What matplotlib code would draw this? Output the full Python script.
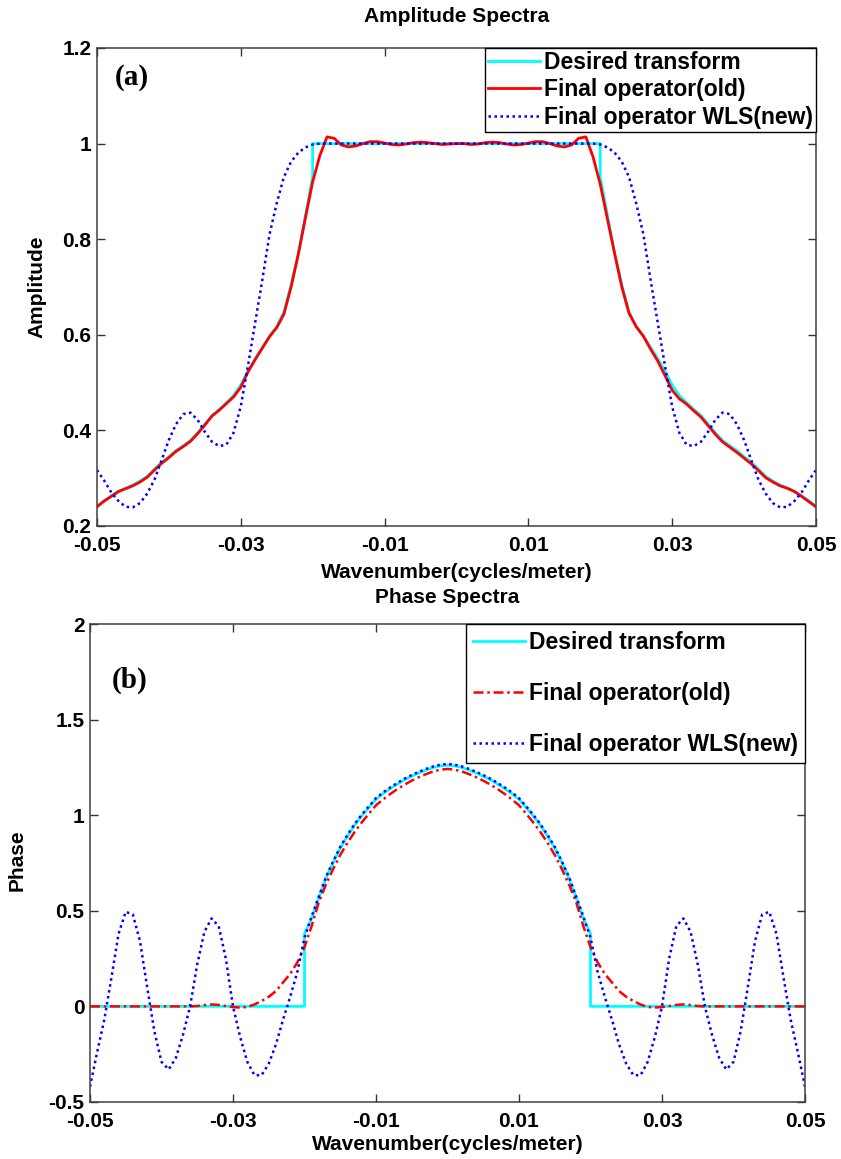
import numpy as np
import matplotlib
matplotlib.use('Agg')
import matplotlib.pyplot as plt

plt.rcParams['axes.unicode_minus'] = False
plt.rcParams['font.family'] = ['Liberation Sans', 'DejaVu Sans']
plt.rcParams['font.weight'] = 'bold'

# ---------------- data ----------------
k = np.round(np.linspace(-0.05, 0.05, 101), 3)          # wavenumber grid
k_des = np.concatenate([k[:31], k[30:71], k[70:]])      # grid with the two jumps at +-0.02

amp_desired = ([0.241, 0.253, 0.263, 0.273, 0.279, 0.286, 0.294, 0.304, 0.319, 0.333,
                0.345, 0.358, 0.368, 0.379, 0.395, 0.413, 0.431, 0.444, 0.458, 0.473,
                0.495, 0.524, 0.550, 0.574, 0.597, 0.617, 0.648, 0.705, 0.770, 0.850,
                0.930]
               + [1.0] * 41 +
               [0.930, 0.850, 0.770, 0.705, 0.648, 0.617, 0.597, 0.574, 0.550, 0.524,
                0.495, 0.473, 0.458, 0.444, 0.431, 0.413, 0.395, 0.379, 0.368, 0.358,
                0.345, 0.333, 0.319, 0.304, 0.294, 0.286, 0.279, 0.273, 0.263, 0.253,
                0.241])

amp_old = [0.240, 0.252, 0.262, 0.272, 0.278, 0.284, 0.292, 0.302, 0.317, 0.331,
           0.343, 0.356, 0.366, 0.377, 0.393, 0.411, 0.430, 0.442, 0.456, 0.470,
           0.490, 0.522, 0.548, 0.572, 0.596, 0.615, 0.643, 0.700, 0.768, 0.845,
           0.920, 0.975, 1.014, 1.011, 0.997, 0.993, 0.995, 1.000, 1.004, 1.004,
           1.001, 0.998, 0.997, 0.999, 1.002, 1.003, 1.002, 1.000, 0.998, 0.999,
           1.000,
           1.000, 0.998, 0.999, 1.002, 1.003, 1.002, 0.999, 0.997, 0.998, 1.001,
           1.004, 1.004, 1.000, 0.995, 0.993, 0.997, 1.011, 1.014, 0.972, 0.915,
           0.842, 0.770, 0.700, 0.645, 0.617, 0.597, 0.570, 0.545, 0.515, 0.484,
           0.466, 0.455, 0.441, 0.428, 0.410, 0.392, 0.376, 0.365, 0.354, 0.342,
           0.330, 0.316, 0.301, 0.292, 0.284, 0.279, 0.272, 0.262, 0.251, 0.240]

amp_wls = [0.317, 0.295, 0.270, 0.252, 0.240, 0.239, 0.248, 0.268, 0.297, 0.338,
           0.380, 0.413, 0.434, 0.437, 0.422, 0.397, 0.376, 0.367, 0.370, 0.395,
           0.450, 0.535, 0.625, 0.715, 0.810, 0.875, 0.930, 0.962, 0.981, 0.992,
           0.998, 1.000, 1.000, 1.000, 1.000, 1.000, 1.000, 1.000, 1.000, 1.000,
           1.000, 1.000, 1.000, 1.000, 1.000, 1.000, 1.000, 1.000, 1.000, 1.000,
           1.000,
           1.000, 1.000, 1.000, 1.000, 1.000, 1.000, 1.000, 1.000, 1.000, 1.000,
           1.000, 1.000, 1.000, 1.000, 1.000, 1.000, 1.000, 1.000, 1.000, 0.998,
           0.992, 0.981, 0.962, 0.930, 0.875, 0.810, 0.715, 0.625, 0.535, 0.450,
           0.395, 0.370, 0.367, 0.376, 0.397, 0.422, 0.437, 0.434, 0.413, 0.380,
           0.338, 0.297, 0.268, 0.248, 0.239, 0.240, 0.252, 0.270, 0.295, 0.317]

phase_desired = ([0.0] * 31 +
                 [0.380, 0.460, 0.568, 0.670, 0.752, 0.828, 0.890, 0.947, 0.996, 1.040,
                  1.083, 1.113, 1.139, 1.163, 1.185, 1.204, 1.221, 1.236, 1.249, 1.258,
                  1.262,
                  1.258, 1.249, 1.236, 1.221, 1.204, 1.185, 1.163, 1.139, 1.113, 1.083,
                  1.040, 0.996, 0.947, 0.890, 0.828, 0.752, 0.670, 0.568, 0.460, 0.380]
                 + [0.0] * 31)

phase_old = [0.000, 0.000, 0.000, 0.000, 0.000, 0.000, 0.000, 0.000, 0.000, 0.000,
             0.000, 0.000, 0.000, 0.000, 0.000, 0.002, 0.007, 0.010, 0.008, 0.002,
             -0.004, -0.006, -0.003, 0.010, 0.028, 0.050, 0.080, 0.125, 0.170, 0.230,
             0.310, 0.420, 0.545, 0.637, 0.718, 0.792, 0.855, 0.912, 0.962, 1.008,
             1.052, 1.083, 1.111, 1.137, 1.160, 1.181, 1.199, 1.215, 1.229, 1.238,
             1.242,
             1.238, 1.229, 1.215, 1.199, 1.181, 1.160, 1.137, 1.111, 1.083, 1.052,
             1.008, 0.962, 0.912, 0.855, 0.792, 0.718, 0.637, 0.545, 0.420, 0.310,
             0.230, 0.170, 0.125, 0.080, 0.050, 0.028, 0.010, -0.003, -0.006, -0.004,
             0.002, 0.008, 0.010, 0.007, 0.002, 0.000, 0.000, 0.000, 0.000, 0.000,
             0.000, 0.000, 0.000, 0.000, 0.000, 0.000, 0.000, 0.000, 0.000, 0.000]

phase_wls = [-0.42, -0.24, -0.07, 0.15, 0.38, 0.495, 0.48, 0.34, 0.10, -0.13,
             -0.29, -0.33, -0.27, -0.15, 0.00, 0.22, 0.39, 0.46, 0.42, 0.25,
             0.00, -0.16, -0.29, -0.36, -0.36, -0.30, -0.20, -0.07, 0.05, 0.18,
             0.36, 0.47, 0.574, 0.676, 0.758, 0.834, 0.896, 0.953, 1.002, 1.046,
             1.089, 1.119, 1.145, 1.169, 1.191, 1.210, 1.227, 1.242, 1.255, 1.264,
             1.268,
             1.264, 1.255, 1.242, 1.227, 1.210, 1.191, 1.169, 1.145, 1.119, 1.089,
             1.046, 1.002, 0.953, 0.896, 0.834, 0.758, 0.676, 0.574, 0.47, 0.36,
             0.18, 0.05, -0.07, -0.20, -0.30, -0.36, -0.36, -0.29, -0.16, 0.00,
             0.25, 0.42, 0.46, 0.39, 0.22, 0.00, -0.15, -0.27, -0.33, -0.29,
             -0.13, 0.10, 0.34, 0.48, 0.495, 0.38, 0.15, -0.07, -0.24, -0.42]

labels = ['Desired transform', 'Final operator(old)', 'Final operator WLS(new)']
xticks = [-0.05, -0.03, -0.01, 0.01, 0.03, 0.05]
xticklabels = ['-0.05', '-0.03', '-0.01', '0.01', '0.03', '0.05']
amp_yticks = [0.2, 0.4, 0.6, 0.8, 1.0, 1.2]
amp_yticklabels = ['0.2', '0.4', '0.6', '0.8', '1', '1.2']
ph_yticks = [-0.5, 0, 0.5, 1, 1.5, 2]
ph_yticklabels = ['-0.5', '0', '0.5', '1', '1.5', '2']

# ---------------- figure ----------------
fig = plt.figure(figsize=(8.41, 11.59), dpi=100)
ax1 = fig.add_axes([0.1153, 0.5462, 0.8549, 0.4124])
ax2 = fig.add_axes([0.1070, 0.0492, 0.8502, 0.4124])

CYAN, RED, BLUE = '#00FFFF', '#FF0000', '#0000FF'
dot = (0, (1.0, 1.4))

ax1.plot(k_des, amp_desired, color=CYAN, lw=2.0, label=labels[0])
ax1.plot(k, amp_old, color=RED, lw=2.0, label=labels[1])
ax1.plot(k, amp_wls, color=BLUE, lw=1.8, ls=dot, label=labels[2])

ax2.plot(k_des, phase_desired, color=CYAN, lw=2.0, label=labels[0])
ax2.plot(k, phase_old, color=RED, lw=1.8, ls=(0, (4, 1.5, 1, 1.5)), label=labels[1])
ax2.plot(k, phase_wls, color=BLUE, lw=1.8, ls=dot, label=labels[2])

def style(ax, yticks, yticklabels, ylim):
    ax.set_xlim(-0.05, 0.05)
    ax.set_ylim(*ylim)
    ax.set_xticks(xticks)
    ax.set_xticklabels(xticklabels)
    ax.set_yticks(yticks)
    ax.set_yticklabels(yticklabels)
    ax.tick_params(direction='in', top=True, right=True, length=6, width=1,
                   labelsize=15, color='#333333')
    ax.tick_params(axis='x', pad=7.5)
    ax.tick_params(axis='y', pad=4)
    for s in ax.spines.values():
        s.set_color('#404040')
        s.set_linewidth(1.1)

style(ax1, amp_yticks, amp_yticklabels, (0.2, 1.2))
style(ax2, ph_yticks, ph_yticklabels, (-0.5, 2))

lab_font = dict(fontsize=15, fontweight='bold')
ax1.set_title('Amplitude Spectra', y=1.065, pad=0, va='center', **lab_font)
ax1.set_xlabel('Wavenumber(cycles/meter)', **lab_font)
ax1.xaxis.set_label_coords(0.5, -0.098)
ax1.xaxis.label.set_va('center')
ax1.set_ylabel('Amplitude', **lab_font)
ax1.yaxis.set_label_coords(-0.083, 0.5)
ax1.yaxis.label.set_va('center')

ax2.set_title('Phase Spectra', y=1.056, pad=0, va='center', **lab_font)
ax2.set_xlabel('Wavenumber(cycles/meter)', **lab_font)
ax2.xaxis.set_label_coords(0.5, -0.09)
ax2.xaxis.label.set_va('center')
ax2.set_ylabel('Phase', **lab_font)
ax2.yaxis.set_label_coords(-0.102, 0.506)
ax2.yaxis.label.set_va('center')

serif = ['Liberation Serif', 'DejaVu Serif']
ax1.text(0.025, 0.939, '(a)', transform=ax1.transAxes, family=serif,
         fontsize=21, fontweight='bold', ha='left', va='center')
ax2.text(0.031, 0.883, '(b)', transform=ax2.transAxes, family=serif,
         fontsize=21, fontweight='bold', ha='left', va='center')

leg_prop = {'weight': 'bold', 'size': 16.5}
leg1 = ax1.legend(loc='upper right', bbox_to_anchor=(1, 1), borderaxespad=0,
                  fancybox=False, edgecolor='black', framealpha=1, prop=leg_prop,
                  handlelength=2.3, handletextpad=0.17, borderpad=0.12,
                  labelspacing=0.2)
leg1.get_frame().set_linewidth(1.0)
leg2 = ax2.legend(loc='upper right', bbox_to_anchor=(1, 1), borderaxespad=0,
                  fancybox=False, edgecolor='black', framealpha=1, prop=leg_prop,
                  handlelength=2.3, handletextpad=0.17, borderpad=0.3,
                  labelspacing=1.22)
leg2.get_frame().set_linewidth(1.0)

fig.savefig('out.png', dpi=100, facecolor='white')
